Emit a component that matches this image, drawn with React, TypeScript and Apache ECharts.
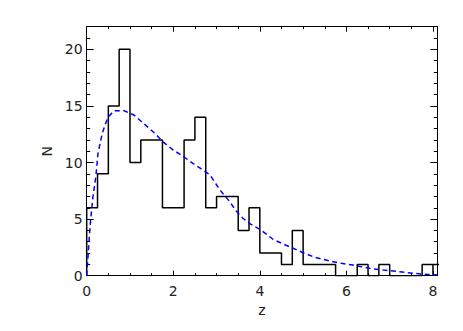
import React, { useEffect, useRef } from "react";
import * as echarts from "echarts";

// Histogram: bins of width 0.25 starting at z = 0
const binStart = 0;
const binWidth = 0.25;
const counts = [
  6, 9, 15, 20, 10, 12, 12, 6, 6, 12, 14, 6, 7, 7, 4, 6,
  2, 2, 1, 4, 1, 1, 1, 0, 0, 1, 0, 1, 0, 0, 0, 1, 1,
];
// the outline drops to zero at this bin edge (z = 8.0)
const dropEdgeIndex = 32;

// Dashed model curve
const curveZ = [
  0, 0.03, 0.055, 0.09, 0.145, 0.21, 0.26, 0.36, 0.49, 0.63, 0.85, 1.09, 1.27,
  1.54, 1.77, 2.0, 2.23, 2.46, 2.62, 2.85, 3.08, 3.27, 3.46, 3.6, 3.77, 4.04,
  4.31, 4.54, 4.77, 5.0, 5.27, 5.62, 5.88, 6.15, 6.54, 6.85, 7.23, 7.54, 7.85,
  8.1,
];
const curveN = [
  0, 1.7, 3.15, 4.9, 7.0, 8.7, 10.8, 12.6, 14.0, 14.56, 14.6, 14.2, 13.6, 12.7,
  11.8, 11.1, 10.55, 9.9, 9.5, 8.9, 7.56, 6.7, 5.7, 5.1, 4.6, 4.0, 3.2, 2.8,
  2.42, 2.03, 1.62, 1.3, 1.09, 0.94, 0.65, 0.5, 0.35, 0.21, 0.12, 0.06,
];

const xMin = 0;
const xMax = 8.1;
const xInterval = 2;
const yMin = 0;
const yMax = 22;
const yInterval = 5;
const xName = "z";
const yName = "N";

export default function App() {
  const ref = useRef<HTMLDivElement>(null);

  useEffect(() => {
    if (!ref.current) return;
    const chart = echarts.init(ref.current, null, { renderer: "svg" });

    const histPts: number[][] = [[binStart, 0]];
    counts.forEach((c, i) => {
      const a = binStart + i * binWidth;
      histPts.push([a, c], [a + binWidth, c]);
    });
    const dropX = binStart + dropEdgeIndex * binWidth;
    const dropPts = [
      [dropX, 0],
      [dropX, counts[dropEdgeIndex]],
    ];
    const curvePts = curveZ.map((z, i) => [z, curveN[i]]);

    const font = "DejaVu Sans";
    const labelStyle = {
      color: "#222",
      fontSize: 14,
      fontFamily: font,
    };

    const xBase = (pos: "bottom" | "top", labels: boolean) => ({
      type: "value",
      position: pos,
      min: xMin,
      max: xMax,
      interval: xInterval,
      axisLine: { show: true, onZero: false, lineStyle: { color: "#000", width: 1 } },
      axisTick: { show: true, inside: true, length: 5, lineStyle: { color: "#000", width: 1 } },
      minorTick: { show: true, splitNumber: 4, length: 2.5, lineStyle: { color: "#000", width: 1 } },
      splitLine: { show: false },
      minorSplitLine: { show: false },
      axisLabel: { show: labels, showMaxLabel: false, margin: 8, ...labelStyle },
      name: labels ? xName : "",
      nameLocation: "middle",
      nameGap: 26,
      nameTextStyle: { ...labelStyle },
    });
    const yBase = (pos: "left" | "right", labels: boolean) => ({
      type: "value",
      position: pos,
      min: yMin,
      max: yMax,
      interval: yInterval,
      axisLine: { show: true, onZero: false, lineStyle: { color: "#000", width: 1 } },
      axisTick: { show: true, inside: true, length: 7, lineStyle: { color: "#000", width: 1 } },
      minorTick: { show: true, splitNumber: 5, length: 3.5, lineStyle: { color: "#000", width: 1 } },
      splitLine: { show: false },
      minorSplitLine: { show: false },
      axisLabel: { show: labels, showMaxLabel: false, margin: 4, ...labelStyle },
      name: labels ? yName : "",
      nameLocation: "middle",
      nameGap: 23,
      nameTextStyle: { ...labelStyle },
    });

    chart.setOption({
      animation: false,
      backgroundColor: "#fff",
      grid: { left: 86.7, top: 26.7, width: 350.6, height: 249 },
      xAxis: [xBase("bottom", true), xBase("top", false)],
      yAxis: [yBase("left", true), yBase("right", false)],
      series: [
        {
          type: "line",
          data: histPts,
          xAxisIndex: 0,
          yAxisIndex: 0,
          showSymbol: false,
          symbol: "none",
          lineStyle: { color: "#000", width: 1.5 },
          clip: true,
          z: 3,
        },
        {
          type: "line",
          data: dropPts,
          xAxisIndex: 0,
          yAxisIndex: 0,
          symbol: "none",
          lineStyle: { color: "#000", width: 1.5 },
          clip: true,
          z: 3,
        },
        {
          type: "line",
          data: curvePts,
          xAxisIndex: 0,
          yAxisIndex: 0,
          symbol: "none",
          smooth: false,
          lineStyle: { color: "#0000ff", width: 1.5, type: [5, 3.5] },
          clip: true,
          z: 4,
        },
      ],
    });

    return () => chart.dispose();
  }, []);

  return (
    <div
      ref={ref}
      style={{ position: "fixed", left: 0, top: 0, width: 463, height: 331, background: "#fff" }}
    />
  );
}
